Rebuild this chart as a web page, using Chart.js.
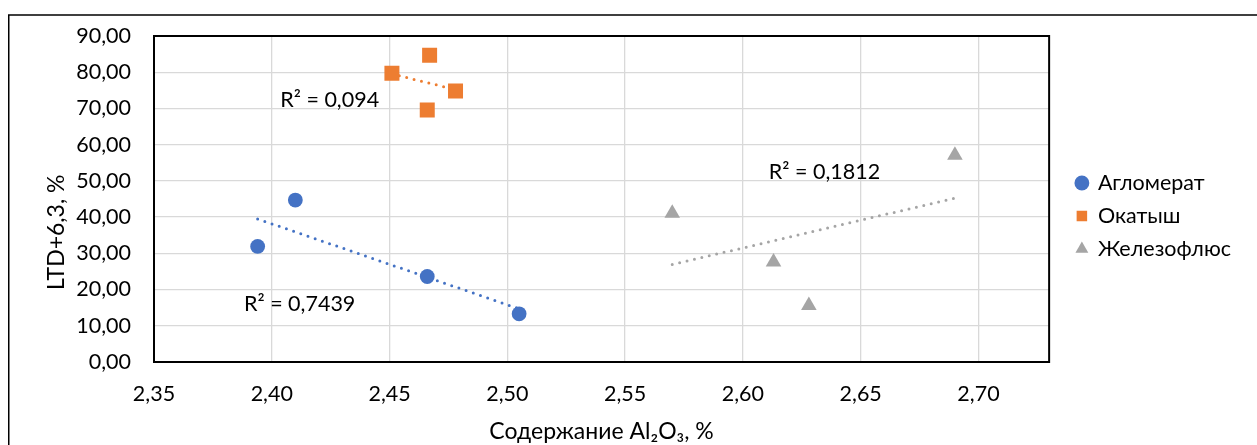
<!DOCTYPE html>
<html>
<head>
<meta charset="utf-8">
<script src="https://cdn.jsdelivr.net/npm/chart.js@4.4.1/dist/chart.umd.min.js"></script>
<style>
    html, body { margin: 0; padding: 0; background: #fff; }
    #wrap { position: relative; width: 1257px; height: 445px; }
</style>
</head>
<body>
<div id="wrap"><canvas id="al2o3_ltd"></canvas></div>
<script>
var seriesNames = ["Агломерат", "Окатыш", "Железофлюс"];
var seriesColors = ["#4472C4", "#ED7D31", "#A5A5A5"];

var aglomeratX = [2.394, 2.410, 2.466, 2.505];
var aglomeratY = [31.9, 44.7, 23.6, 13.3];
var okatyshX = [2.451, 2.467, 2.478, 2.466];
var okatyshY = [79.7, 84.7, 74.8, 69.6];
var zhelezoX = [2.570, 2.613, 2.628, 2.690];
var zhelezoY = [41.1, 27.6, 15.6, 57.1];

var xTickValues = [2.35, 2.40, 2.45, 2.50, 2.55, 2.60, 2.65, 2.70];
var yTickValues = [0, 10, 20, 30, 40, 50, 60, 70, 80, 90];

var xTitle = "Содержание Al₂O₃, %";
var yTitle = "LTD+6,3, %";

var r2Texts = ["R² = 0,7439", "R² = 0,094", "R² = 0,1812"];
// где стоят подписи R² (в единицах осей, левый край текста)
var r2AtX = [2.3882, 2.4036, 2.611];
var r2AtY = [16.0, 72.3, 52.5];

(function () {
    "use strict";

    var canvas = document.getElementById("al2o3_ltd");
    if (!canvas || typeof Chart === "undefined") {
        return;
    }

    var font = "Lato, 'Open Sans', sans-serif";
    Chart.defaults.font.family = font;
    Chart.defaults.color = "#000";

    function points(xs, ys) {
        return xs.map(function (x, i) {
            return { x: x, y: ys[i] };
        });
    }

    // линейный тренд по МНК, от минимального до максимального x
    function trend(xs, ys) {
        var n = xs.length, mx = 0, my = 0, sxy = 0, sxx = 0;
        for (var i = 0; i < n; i++) {
            mx += xs[i] / n;
            my += ys[i] / n;
        }
        for (var j = 0; j < n; j++) {
            sxy += (xs[j] - mx) * (ys[j] - my);
            sxx += (xs[j] - mx) * (xs[j] - mx);
        }
        var k = sxy / sxx;
        var x0 = Math.min.apply(null, xs), x1 = Math.max.apply(null, xs);
        return [
            { x: x0, y: my + k * (x0 - mx) },
            { x: x1, y: my + k * (x1 - mx) },
        ];
    }

    function comma(v) {
        return Number(v).toFixed(2).replace(".", ",");
    }

    var xsList = [aglomeratX, okatyshX, zhelezoX];
    var ysList = [aglomeratY, okatyshY, zhelezoY];
    var styles = ["circle", "rect", "triangle"];
    var radii = [7.4, 10.6, 9];

    var datasets = [];
    seriesNames.forEach(function (name, i) {
        datasets.push({
            label: name,
            data: points(xsList[i], ysList[i]),
            pointStyle: styles[i],
            pointRadius: radii[i],
            pointHoverRadius: radii[i],
            backgroundColor: seriesColors[i],
            borderColor: seriesColors[i],
            borderWidth: 0,
            order: 1,
        });
    });
    seriesNames.forEach(function (name, i) {
        datasets.push({
            label: "trend " + name,
            data: trend(xsList[i], ysList[i]),
            showLine: true,
            pointRadius: 0,
            pointHoverRadius: 0,
            borderColor: seriesColors[i],
            borderWidth: 3,
            borderDash: [0, 7.6],
            borderCapStyle: "round",
            fill: false,
            order: 2,
        });
    });

    var decor = {
        id: "decor",
        beforeDraw: function (chart) {
            var ctx = chart.ctx;
            ctx.save();
            ctx.strokeStyle = "#000";
            ctx.lineWidth = 1.5;
            ctx.beginPath();
            ctx.moveTo(8.75, chart.height);
            ctx.lineTo(8.75, 15);
            ctx.lineTo(chart.width, 15);
            ctx.stroke();
            ctx.restore();
        },
        beforeDatasetsDraw: function (chart) {
            var a = chart.chartArea, ctx = chart.ctx;
            ctx.save();
            ctx.strokeStyle = "#000";
            ctx.lineWidth = 2;
            ctx.strokeRect(a.left, a.top, a.right - a.left, a.bottom - a.top);
            ctx.restore();
        },
        afterDatasetsDraw: function (chart) {
            var ctx = chart.ctx, sx = chart.scales.x, sy = chart.scales.y;
            ctx.save();
            ctx.fillStyle = "#000";
            ctx.textBaseline = "middle";

            ctx.font = "21.5px " + font;
            ctx.textAlign = "left";
            r2Texts.forEach(function (t, i) {
                ctx.fillText(t, sx.getPixelForValue(r2AtX[i]), sy.getPixelForValue(r2AtY[i]));
            });

            // подпись оси Y сидит ниже середины области построения
            ctx.font = "23px " + font;
            ctx.textAlign = "center";
            ctx.translate(57, sy.getPixelForValue(35.8));
            ctx.rotate(-Math.PI / 2);
            ctx.fillText(yTitle, 0, 0);
            ctx.restore();
        },
    };

    new Chart(canvas, {
        type: "scatter",
        data: { datasets: datasets },
        options: {
            responsive: true,
            maintainAspectRatio: false,
            animation: false,
            layout: {
                padding: { top: 36, right: 16, bottom: 0, left: 0 },
            },
            plugins: {
                tooltip: { enabled: false },
                legend: {
                    position: "right",
                    fullSize: false,
                    title: {
                        display: true,
                        text: " ",
                        font: { size: 10 },
                        padding: 11,
                    },
                    labels: {
                        usePointStyle: true,
                        boxWidth: 10.5,
                        boxHeight: 10.5,
                        padding: 11.5,
                        font: { size: 21.5 },
                        color: "#000",
                        filter: function (item) {
                            return item.datasetIndex < seriesNames.length;
                        },
                    },
                },
            },
            scales: {
                x: {
                    type: "linear",
                    min: 2.35,
                    max: 2.73,
                    afterBuildTicks: function (scale) {
                        scale.ticks = xTickValues.map(function (v) {
                            return { value: v };
                        });
                    },
                    afterFit: function (scale) {
                        scale.height = 83;
                    },
                    ticks: {
                        padding: 19,
                        maxRotation: 0,
                        autoSkip: false,
                        font: { size: 21.5 },
                        color: "#000",
                        callback: comma,
                    },
                    grid: { color: "#d9d9d9", lineWidth: 1.3, drawTicks: false },
                    border: { display: false },
                    title: {
                        display: true,
                        text: xTitle,
                        font: { size: 23 },
                        color: "#000",
                        padding: { top: 0, bottom: 0 },
                    },
                },
                y: {
                    type: "linear",
                    min: 0,
                    max: 90,
                    afterBuildTicks: function (scale) {
                        scale.ticks = yTickValues.map(function (v) {
                            return { value: v };
                        });
                    },
                    afterFit: function (scale) {
                        scale.width = 154;
                    },
                    ticks: {
                        padding: 23,
                        font: { size: 21.5 },
                        color: "#000",
                        callback: comma,
                    },
                    grid: { color: "#d9d9d9", lineWidth: 1.3, drawTicks: false },
                    border: { display: false },
                },
                gap: {
                    type: "linear",
                    position: "right",
                    display: true,
                    grid: { display: false },
                    ticks: { display: false },
                    border: { display: false },
                    afterFit: function (scale) {
                        scale.width = 16;
                    },
                },
            },
        },
        plugins: [decor],
    });
})();
</script>
</body>
</html>
